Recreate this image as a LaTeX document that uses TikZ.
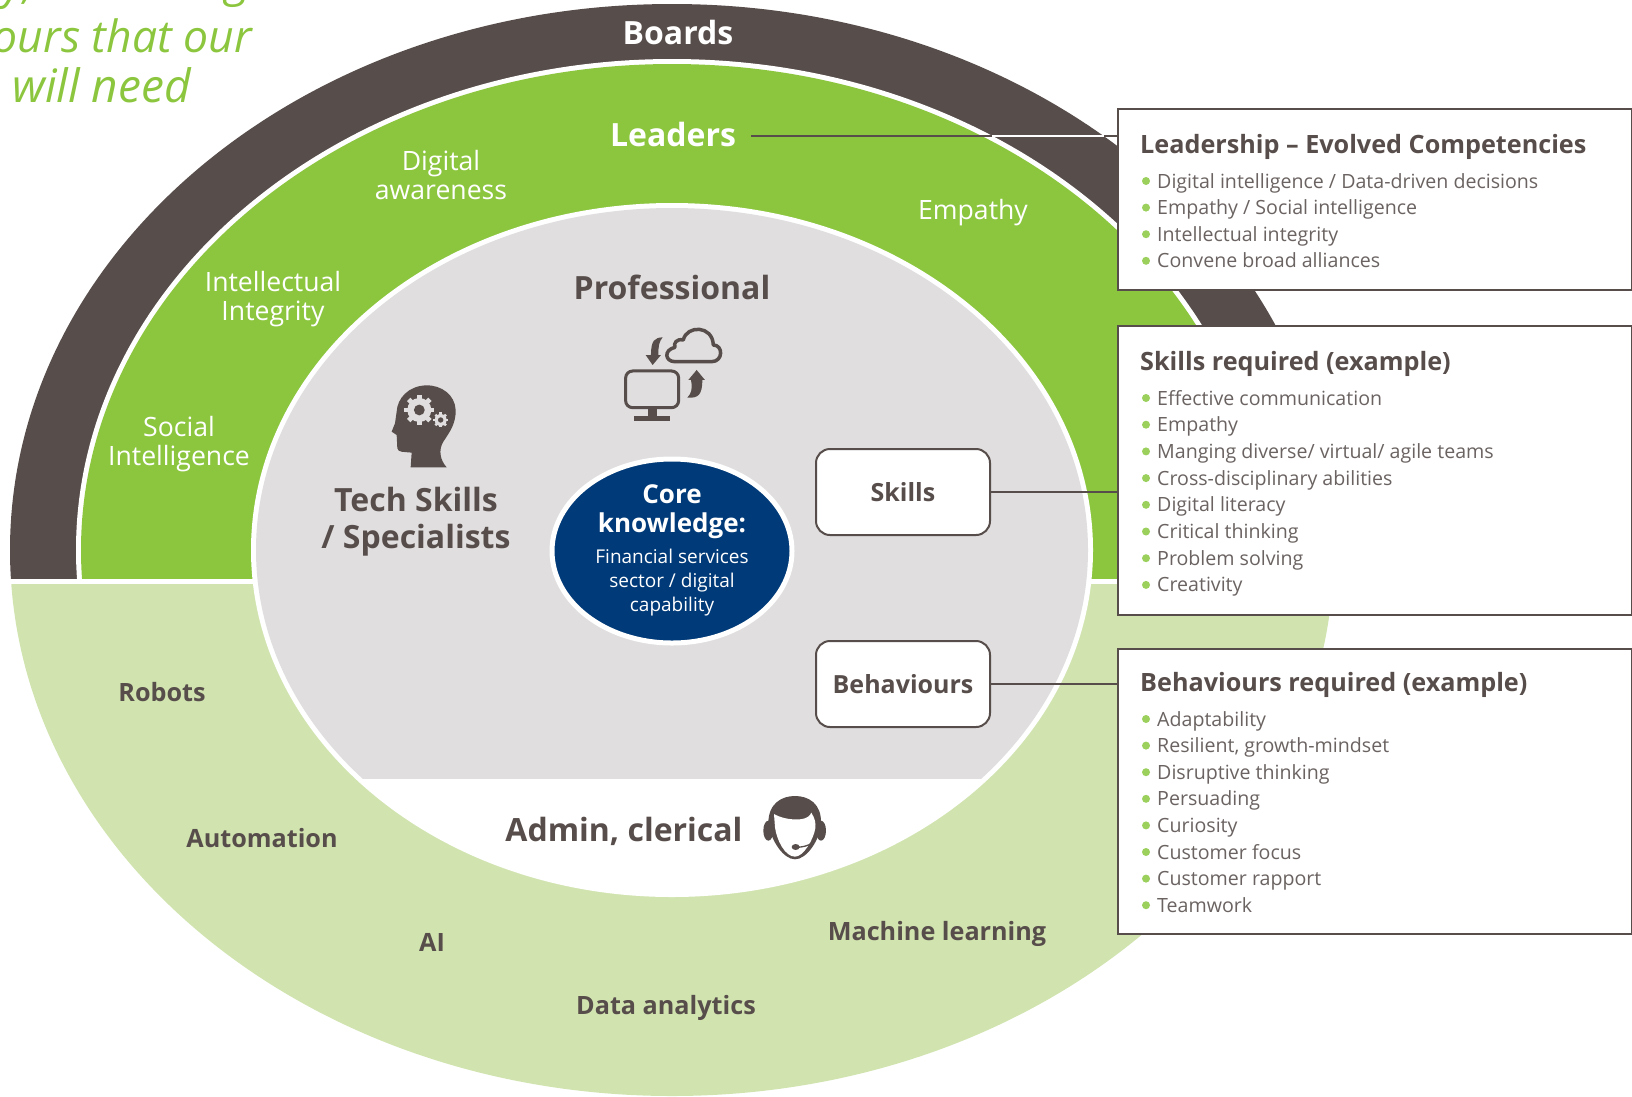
\documentclass[tikz,border=0pt]{standalone}
\usepackage{fontspec}
\usetikzlibrary{shapes.geometric}
\setmainfont{Open Sans}
\definecolor{ringdark}{HTML}{574D4A}
\definecolor{leafgreen}{HTML}{8CC63F}
\definecolor{palegreen}{HTML}{D1E4B0}
\definecolor{coregray}{HTML}{E0DEDF}
\definecolor{corenavy}{HTML}{003A78}
\definecolor{listgray}{HTML}{6A6361}
\definecolor{dotgreen}{HTML}{9BD05C}
\tikzset{
  whitetext/.style={text=white,align=center,font=\fontsize{26.6}{29}\selectfont,inner sep=0pt},
  darkhead/.style={text=ringdark,align=center,font=\fontsize{32}{37}\bfseries\selectfont,inner sep=0pt},
  tagtext/.style={text=ringdark,font=\fontsize{25.2}{28}\bfseries\selectfont,inner sep=0pt},
  smallbox/.style={draw=ringdark,line width=2pt,fill=white,rounded corners=14pt,minimum width=174pt,minimum height=86pt,text=ringdark,font=\fontsize{25}{28}\bfseries\selectfont,inner sep=0pt},
  panelbox/.style={draw=ringdark,line width=2pt,fill=white,minimum width=514pt,inner sep=0pt},
  paneltitle/.style={anchor=base west,text=ringdark,font=\fontsize{25.2}{30}\bfseries\selectfont,inner sep=0pt},
  panelline/.style={anchor=base west,text=listgray,font=\fontsize{19.6}{25}\selectfont,inner sep=0pt},
  linkline/.style={draw=ringdark,line width=2pt},
  introtext/.style={text=leafgreen,anchor=base east,font=\fontsize{46}{50}\itshape\selectfont,inner sep=0pt},
  iconfill/.style={fill=ringdark,draw=none}
}
\newcommand{\gearicon}[3]{%
  \foreach \a in {0,45,...,315}
    \fill[coregray,shift={(#1,#2)},rotate=\a] (-#3*0.2,0) rectangle (#3*0.2,#3*1.25);
  \fill[coregray] (#1,#2) circle ({#3*1pt/3});
  \fill[ringdark] (#1,#2) circle ({#3*0.45pt/3});
}
\begin{document}
\begin{tikzpicture}[x=1pt,y=-1pt]
  \useasboundingbox (0,0) rectangle (1632,1096);
  \clip (0,0) rectangle (1632,1096);

  % rings
  \begin{scope}
    \clip (0,0) rectangle (1632,578);
    \fill[ringdark] (672,550) ellipse [x radius=662pt,y radius=546pt];
    \fill[white] (672,550) ellipse [x radius=596pt,y radius=491pt];
    \fill[leafgreen] (672,550) ellipse [x radius=591pt,y radius=486pt];
  \end{scope}
  \begin{scope}
    \clip (0,584) rectangle (1632,1096);
    \fill[palegreen] (672,550) ellipse [x radius=662pt,y radius=546pt];
  \end{scope}
  \fill[white] (672,550) ellipse [x radius=421pt,y radius=347pt];
  \begin{scope}
    \clip (0,0) rectangle (1632,778);
    \fill[coregray] (672,550) ellipse [x radius=416pt,y radius=342pt];
  \end{scope}

  % centre
  \node[ellipse,draw=white,line width=5pt,fill=corenavy,minimum width=240pt,minimum height=184pt,inner sep=0pt] (core) at (672,551) {};
  \node[whitetext,font=\fontsize{26}{29}\bfseries\selectfont] (coretitle) at (672,512) {Core\\knowledge:};
  \node[whitetext,font=\fontsize{19}{24}\selectfont] (coresub) at (672,583) {Financial services\\sector / digital\\capability};

  % intro text, cut by the page
  \node[introtext] (intro1a) at (35,-2) {y,};
  \node[introtext] (intro1b) at (250,-4) {g};
  \node[introtext,font=\fontsize{44.5}{50}\itshape\selectfont] (intro2) at (252,52) {ours that our};
  \node[introtext] (intro3) at (191,102) {will need};

  % ring labels
  \node[whitetext,font=\fontsize{32}{34}\bfseries\selectfont] (boards) at (678,32) {Boards};
  \node[whitetext,font=\fontsize{32}{36}\bfseries\selectfont] (leaders) at (673,134) {Leaders};
  \node[whitetext] (digital) at (441,175) {Digital\\awareness};
  \node[whitetext] (integrity) at (273,299) {Intellectual\\Integrity};
  \node[whitetext] (social) at (179,444) {Social\\Intelligence};
  \node[whitetext] (empathy) at (973,213) {Empathy};

  \node[darkhead] (professional) at (672,287) {Professional};
  \node[darkhead] (tech) at (416,522) {Tech Skills\\/ Specialists};
  \node[darkhead] (admin) at (624,831) {Admin, clerical};

  \node[tagtext] (robots) at (162,692) {Robots};
  \node[tagtext] (automation) at (262,838) {Automation};
  \node[tagtext] (ai) at (432,942) {AI};
  \node[tagtext] (analytics) at (666,1008) {Data analytics};
  \node[tagtext] (machine) at (937,934) {Machine learning};

  % boxes
  \node[smallbox] (skills) at (903,492) {Skills};
  \node[smallbox] (behaviours) at (903,684) {Behaviours};
  \node[panelbox,minimum height=181pt] (leadpanel) at (1375,199.5) {};
  \node[panelbox,minimum height=289pt] (skillpanel) at (1375,470.5) {};
  \node[panelbox,minimum height=285pt] (behavpanel) at (1375,791.5) {};

  % connectors
  \coordinate (ringin) at (992,136);
  \coordinate (ringout) at (1104,136);
  \coordinate (leadend) at (leadpanel.west |- ringin);
  \coordinate (leadstart) at (751,136);
  \draw[linkline] (leadstart) -- (leadend);
  \draw[white,line width=1.5pt] (ringin) -- (ringout);
  \draw[linkline] (skills.east) -- (skillpanel.west |- skills.east);
  \draw[linkline] (behaviours.east) -- (behavpanel.west |- behaviours.east);

  % panel texts
  \node[paneltitle] (leadtitle) at (1140,153) {Leadership – Evolved Competencies};
  \foreach \txt [count=\i from 0] in {Digital intelligence / Data-driven decisions,Empathy / Social intelligence,Intellectual integrity,Convene broad alliances} {
    \fill[dotgreen] (1146,181+26.6*\i) circle (4pt);
    \node[panelline] (lead\i) at (1157,188+26.6*\i) {\txt};
  }
  \node[paneltitle] (skilltitle) at (1140,370) {Skills required (example)};
  \foreach \txt [count=\i from 0] in {Effective communication,Empathy,Manging diverse/ virtual/ agile teams,Cross-disciplinary abilities,Digital literacy,Critical thinking,Problem solving,Creativity} {
    \fill[dotgreen] (1146,398+26.7*\i) circle (4pt);
    \node[panelline] (skill\i) at (1157,405+26.7*\i) {\txt};
  }
  \node[paneltitle] (behavtitle) at (1140,691) {Behaviours required (example)};
  \foreach \txt [count=\i from 0] in {Adaptability,{Resilient, growth-mindset},Disruptive thinking,Persuading,Curiosity,Customer focus,Customer rapport,Teamwork} {
    \fill[dotgreen] (1146,719+26.6*\i) circle (4pt);
    \node[panelline] (behav\i) at (1157,726+26.6*\i) {\txt};
  }

  % icons, drawn on a third of a pixel
  \begin{scope}[xshift=340pt,yshift=-260pt,x=0.3333pt,y=-0.3333pt]
    \fill[iconfill] (212,622) -- (320,622) .. controls (300,600) and (295,570) .. (310,545)
      .. controls (330,515) and (348,490) .. (347,450) .. controls (345,405) and (305,375) .. (258,376)
      .. controls (205,378) and (172,415) .. (170,455) -- (165,490) -- (155,515) -- (170,525) -- (172,565)
      .. controls (175,578) and (190,575) .. (215,578) -- cycle;
    \gearicon{238}{450}{36}
    \gearicon{302}{480}{18}
    % monitor and cloud
    \draw[ringdark,line width=3pt,rounded corners=7pt] (857,333) rectangle (1016,443);
    \fill[iconfill] (925,445) rectangle (950,470);
    \fill[iconfill] (883,468) rectangle (990,482);
    \draw[ringdark,line width=3.5pt,line join=round] (1005,305) -- (1115,305)
      .. controls (1150,305) and (1150,255) .. (1120,255)
      .. controls (1118,195) and (1040,195) .. (1030,240)
      .. controls (1010,235) and (1000,250) .. (1005,262)
      .. controls (970,270) and (975,305) .. (1005,305) -- cycle;
    \fill[iconfill] (968,232) .. controls (945,233) and (933,240) .. (933,285) -- (917,285) -- (938,315)
      -- (963,285) -- (955,285) .. controls (955,260) and (957,245) .. (968,232) -- cycle;
    \fill[iconfill] (1042,413) .. controls (1075,415) and (1087,405) .. (1087,360) -- (1095,360) -- (1070,330)
      -- (1045,360) -- (1053,360) .. controls (1058,385) and (1055,400) .. (1042,413) -- cycle;
  \end{scope}
  \begin{scope}[xshift=700pt,yshift=-740pt,x=0.3333pt,y=-0.3333pt]
    \fill[iconfill] (205,272) ellipse [x radius=5pt,y radius=10pt];
    \fill[iconfill] (363,272) ellipse [x radius=5pt,y radius=10pt];
    \fill[iconfill] (205,250) .. controls (205,190) and (245,168) .. (285,168)
      .. controls (325,168) and (365,190) .. (363,250) .. controls (360,300) and (320,358) .. (285,358)
      .. controls (250,358) and (212,300) .. (205,250) -- cycle;
    \fill[white] (222,222) .. controls (240,232) and (265,240) .. (300,238) .. controls (320,236) and (330,228) .. (334,218)
      .. controls (345,235) and (348,250) .. (346,265) .. controls (340,300) and (310,350) .. (285,350)
      .. controls (255,350) and (230,300) .. (225,262) -- cycle;
    \draw[ringdark,line width=1.3pt] (287,322) .. controls (305,322) and (325,318) .. (338,308);
    \fill[iconfill] (287,321) ellipse [x radius=4pt,y radius=3pt];
  \end{scope}
\end{tikzpicture}
\end{document}
